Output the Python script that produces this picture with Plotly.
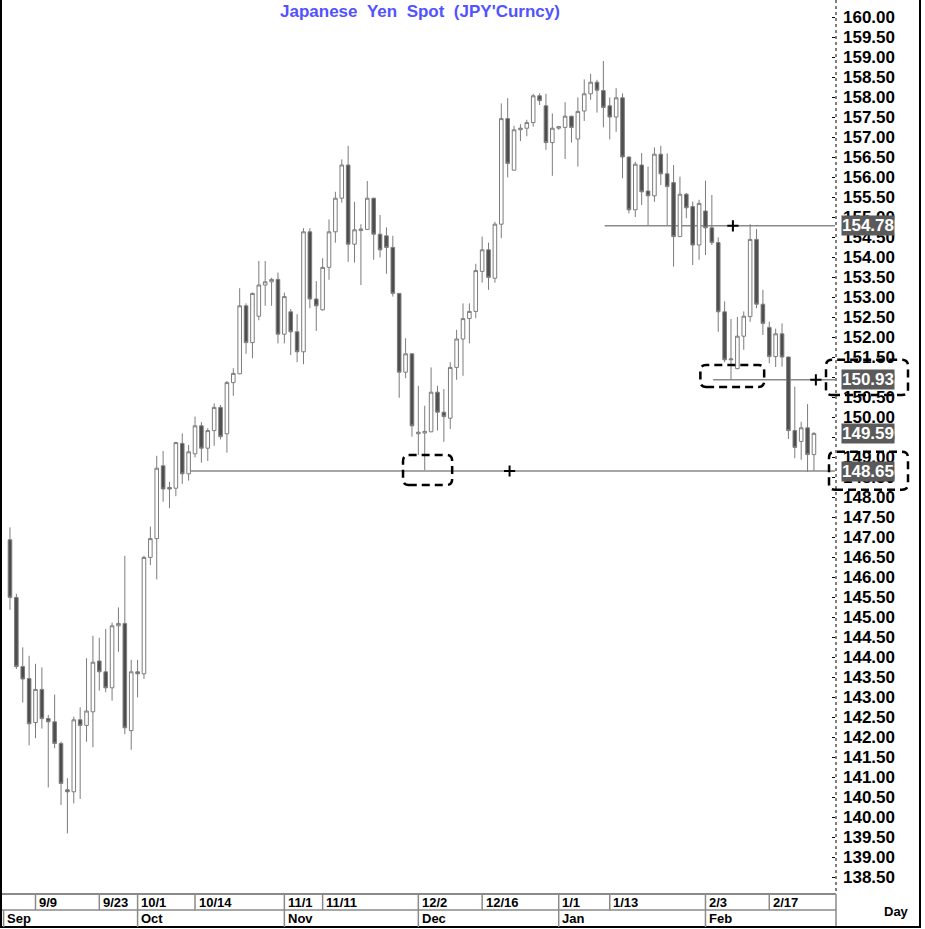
import numpy as np
import pandas as pd
import plotly.graph_objects as go

# ---------------- data ----------------
dates = pd.bdate_range("2024-09-03", "2025-02-26")

opens = [146.93,145.49,143.76,143.46,142.36,143.19,142.46,142.38,141.84,140.68,
         140.63,142.43,142.29,142.63,143.90,143.63,143.23,144.78,144.84,142.16,
         143.63,143.58,146.49,146.96,148.78,148.24,148.22,149.34,148.58,149.08,
         149.78,149.22,149.66,150.24,149.58,150.86,151.08,152.78,151.86,152.52,
         153.30,153.38,153.44,152.07,152.63,152.13,151.63,154.63,152.95,152.68,
         153.74,154.63,155.47,156.30,154.32,154.66,154.69,155.47,154.57,154.53,
         154.24,153.09,151.12,151.58,149.58,149.60,149.63,150.62,150.12,149.97,
         151.24,151.95,152.46,152.64,153.64,154.18,153.47,154.82,157.46,156.17,
         157.18,157.22,157.36,158.03,157.78,156.86,157.22,157.24,157.52,156.95,
         157.65,158.08,158.37,158.16,157.78,157.50,157.98,156.50,155.18,156.30,
         155.65,155.53,156.57,156.08,155.86,154.51,155.57,155.26,154.30,155.15,
         154.73,154.36,152.63,151.43,151.21,152.02,152.51,154.44,152.82,152.24,
         151.51,152.08,151.50,149.66,149.39,149.73,149.06]
highs = [147.24,145.58,144.24,144.03,143.83,143.74,142.55,143.06,141.88,140.97,
         142.51,142.74,143.97,144.53,144.48,144.70,144.86,145.24,146.53,143.93,
         143.93,146.53,147.26,149.03,149.15,148.38,149.38,149.59,149.30,150.01,
         149.87,149.72,150.34,150.30,150.90,151.22,153.22,152.84,153.11,153.90,
         153.90,153.48,153.61,153.11,152.70,152.57,154.72,154.72,153.40,153.97,
         154.94,155.63,156.44,156.78,155.38,154.82,155.90,155.48,155.05,154.74,
         154.53,153.10,151.97,151.60,150.78,150.28,151.24,150.78,150.70,151.37,
         152.18,152.84,152.84,153.83,154.51,154.36,154.88,157.84,157.97,157.28,
         157.32,157.43,158.08,158.09,158.08,157.59,157.27,157.87,157.53,157.99,
         158.44,158.58,158.43,158.90,157.99,158.22,158.09,156.51,156.38,156.60,
         156.26,156.74,156.78,156.59,156.30,156.01,155.60,155.39,155.43,155.91,
         155.55,154.49,152.89,152.45,152.50,152.64,154.82,154.70,153.18,152.38,
         152.21,152.34,151.51,150.76,149.88,150.32,149.62]
lows = [145.18,143.70,142.86,141.79,141.97,142.21,140.74,141.72,140.30,139.59,
        140.34,140.45,141.88,141.74,143.16,143.12,142.91,144.13,142.07,141.68,
        142.99,143.45,146.30,145.94,147.88,147.72,148.02,148.33,148.41,148.99,
        148.86,148.90,149.28,149.44,149.11,150.53,151.07,151.58,151.47,152.42,
        152.78,152.78,151.84,151.84,151.55,151.37,151.32,152.72,152.15,152.66,
        153.43,154.36,155.36,153.88,153.86,153.30,154.68,153.93,153.99,153.58,
        153.01,150.48,150.97,149.51,149.05,148.67,149.62,149.66,149.38,149.70,
        150.93,151.03,151.84,152.47,153.36,153.18,153.36,154.47,155.99,156.16,
        156.90,157.02,157.26,157.80,156.68,156.03,157.18,156.45,156.86,156.26,
        157.40,157.93,157.61,157.24,156.94,157.13,155.97,155.09,155.00,155.30,
        154.80,155.38,155.80,154.80,153.76,154.50,154.97,153.80,153.93,154.05,
        154.30,152.13,151.37,150.93,151.19,151.68,152.38,152.72,152.05,151.34,
        151.25,151.26,149.45,148.97,148.93,148.63,148.65]
closes = [145.49,143.76,143.45,142.33,143.19,142.46,142.38,141.84,140.84,140.63,
          142.43,142.29,142.65,143.87,143.63,143.23,144.78,144.84,142.23,143.63,
          143.58,146.49,146.96,148.72,148.20,148.20,149.36,148.58,149.13,149.78,
          149.22,149.66,150.24,149.51,150.86,151.09,152.78,151.86,153.09,153.30,
          153.38,153.44,152.07,153.01,152.13,151.63,154.63,152.95,152.78,153.74,
          154.63,155.47,156.30,154.32,154.68,154.70,155.47,154.57,154.18,154.24,
          153.09,151.12,151.58,149.78,149.62,149.64,150.62,150.12,150.01,151.24,
          151.95,152.46,152.64,153.66,154.18,153.49,154.82,157.46,156.34,157.18,
          157.22,157.36,158.03,157.91,156.86,157.22,157.26,157.52,157.24,157.64,
          158.08,158.37,158.17,157.74,157.50,157.98,156.50,155.18,156.32,155.63,
          155.53,156.57,156.08,155.76,154.51,155.57,155.23,154.30,155.34,154.73,
          154.36,152.63,151.43,151.45,152.02,152.52,154.44,152.82,152.34,151.51,
          152.08,151.50,149.66,149.24,149.73,149.06,149.59]

day_tick_dates = ["2024-09-09", "2024-09-23", "2024-10-01", "2024-10-14", "2024-11-01",
                  "2024-11-11", "2024-12-02", "2024-12-16", "2025-01-01", "2025-01-13",
                  "2025-02-03", "2025-02-17"]
day_tick_text = ["9/9", "9/23", "10/1", "10/14", "11/1", "11/11", "12/2", "12/16",
                 "1/1", "1/13", "2/3", "2/17"]
month_dates = ["2024-09-02", "2024-10-01", "2024-11-01", "2024-12-02", "2025-01-01", "2025-02-03"]
month_text = ["Sep", "Oct", "Nov", "Dec", "Jan", "Feb"]

ytick_vals = [round(v, 2) for v in np.arange(138.5, 160.001, 0.5)]
ytick_text = [f"{v:.2f}" for v in ytick_vals]

# highlighted levels (value labels on the price axis)
level_values = [154.78, 150.93, 149.59, 148.65]
# support / resistance lines: (start date, level, "+" marker date)
support_lines = [("2024-10-11", 148.65, "2024-12-20"),
                 ("2025-01-10", 154.78, "2025-02-07"),
                 ("2025-02-04", 150.93, "2025-02-26")]

# ---------------- geometry helpers ----------------
W, H = 925, 929
ML, MR, MT, MB = 2, 90, 0, 35
PW, PH = W - ML - MR, H - MT - MB
XR = [-1.25, 129.3]
YR = [138.075, 160.425]


def pxx(xp):
    return (xp - ML) / PW


def pxy(yp):
    return (PH + MT - yp) / PH


def pos(d):
    return int(np.busday_count(np.datetime64(str(dates[0].date())), np.datetime64(d)))


x = np.arange(len(dates))

fig = go.Figure()
fig.add_trace(go.Candlestick(
    x=x, open=opens, high=highs, low=lows, close=closes,
    increasing=dict(line=dict(color="#7c7c7c", width=1), fillcolor="#ffffff"),
    decreasing=dict(line=dict(color="#7c7c7c", width=1), fillcolor="#4d4d4d"),
    whiskerwidth=0, showlegend=False, hoverinfo="skip",
))

shapes = []
GRAY = "#8a8a8a"
plus_x, plus_y = [], []
for start, lvl, mark in support_lines:
    shapes.append(dict(type="line", xref="x", yref="y", x0=pos(start) + 0.2, x1=XR[1],
                       y0=lvl, y1=lvl, line=dict(color=GRAY, width=1.5), layer="below"))
    plus_x.append(pos(mark) + 0.3)
    plus_y.append(lvl)
fig.add_trace(go.Scatter(x=plus_x, y=plus_y, mode="markers", showlegend=False, hoverinfo="skip",
                         marker=dict(symbol="cross-thin", size=8, line=dict(width=2, color="black"))))


def rrect(x0, x1, y0, y1, rx, ry):
    return (f"M {x0 + rx},{y0} L {x1 - rx},{y0} Q {x1},{y0} {x1},{y0 + ry} "
            f"L {x1},{y1 - ry} Q {x1},{y1} {x1 - rx},{y1} L {x0 + rx},{y1} "
            f"Q {x0},{y1} {x0},{y1 - ry} L {x0},{y0 + ry} Q {x0},{y0} {x0 + rx},{y0} Z")


DASH = dict(color="black", width=2.5, dash="8px,5px")
shapes.append(dict(type="path", xref="x", yref="y",
                   path=rrect(61.6, 69.3, 148.30, 149.05, 0.9, 0.15), line=DASH))
shapes.append(dict(type="path", xref="x", yref="y",
                   path=rrect(108.2, 118.2, 150.75, 151.30, 0.9, 0.15), line=DASH))
shapes.append(dict(type="path", xref="paper", yref="y",
                   path=rrect(pxx(826), pxx(908), 150.55, 151.43, 6 / PW, 0.15), line=DASH))
shapes.append(dict(type="path", xref="paper", yref="y",
                   path=rrect(pxx(829), pxx(908), 148.18, 149.13, 6 / PW, 0.15), line=DASH))

# dotted axis line
shapes.append(dict(type="line", xref="paper", yref="paper", x0=pxx(836), x1=pxx(836),
                   y0=pxy(0), y1=pxy(894), line=dict(color="black", width=1, dash="dot")))
# bottom date panel lines
shapes.append(dict(type="line", xref="paper", yref="paper", x0=pxx(0), x1=pxx(836),
                   y0=pxy(894), y1=pxy(894), line=dict(color=GRAY, width=2)))
shapes.append(dict(type="line", xref="paper", yref="paper", x0=pxx(0), x1=pxx(836),
                   y0=pxy(910), y1=pxy(910), line=dict(color=GRAY, width=1.5)))
shapes.append(dict(type="line", xref="paper", yref="paper", x0=pxx(836), x1=pxx(836),
                   y0=pxy(894), y1=pxy(927), line=dict(color=GRAY, width=1.5)))
# frame
shapes.append(dict(type="line", xref="paper", yref="paper", x0=pxx(1), x1=pxx(1),
                   y0=pxy(0), y1=pxy(927.5), line=dict(color="black", width=2)))
shapes.append(dict(type="line", xref="paper", yref="paper", x0=pxx(920), x1=pxx(920),
                   y0=pxy(0), y1=pxy(927.5), line=dict(color="black", width=2)))
shapes.append(dict(type="line", xref="paper", yref="paper", x0=pxx(0), x1=pxx(921),
                   y0=pxy(927), y1=pxy(927), line=dict(color="black", width=2)))

annotations = []
LABFONT = dict(family="Liberation Sans", size=13, color="black", weight="bold")
for d, t in zip(day_tick_dates, day_tick_text):
    p = pos(d)
    shapes.append(dict(type="line", xref="x", yref="paper", x0=p, x1=p,
                       y0=pxy(894), y1=pxy(910), line=dict(color=GRAY, width=1.5)))
    annotations.append(dict(x=p + 0.25, y=pxy(902.5), xref="x", yref="paper", text=t,
                            showarrow=False, xanchor="left", yanchor="middle", font=LABFONT))
for d, t in zip(month_dates, month_text):
    p = pos(d)
    shapes.append(dict(type="line", xref="x", yref="paper", x0=p, x1=p,
                       y0=pxy(910), y1=pxy(927), line=dict(color=GRAY, width=1.5)))
    annotations.append(dict(x=max(p, XR[0]) + 0.25, y=pxy(918.5), xref="x", yref="paper", text=t,
                            showarrow=False, xanchor="left", yanchor="middle", font=LABFONT))

annotations.append(dict(x=pxx(897), y=pxy(911), xref="paper", yref="paper", text="Day",
                        showarrow=False, xanchor="center", yanchor="middle", font=LABFONT))

for v in level_values:
    annotations.append(dict(x=pxx(841), y=v, xref="paper", yref="y", text=f"{v:.2f}",
                            showarrow=False, xanchor="left", yanchor="middle",
                            bgcolor="#5a5a5a", borderpad=0,
                            font=dict(family="Liberation Sans", size=17, color="white", weight="bold")))

annotations.append(dict(x=pxx(420), y=pxy(12), xref="paper", yref="paper",
                        text="Japanese\u00a0\u00a0Yen\u00a0\u00a0Spot\u00a0\u00a0(JPY'Curncy)",
                        showarrow=False, xanchor="center", yanchor="middle",
                        font=dict(family="Liberation Sans", size=17, color="#5252ff", weight="bold")))

fig.update_layout(
    width=W, height=H,
    margin=dict(l=ML, r=MR, t=MT, b=MB),
    paper_bgcolor="white", plot_bgcolor="white",
    shapes=shapes, annotations=annotations,
    boxgap=0.2,
    xaxis=dict(range=XR, showgrid=False, zeroline=False, showticklabels=False,
               ticks="", showline=False, rangeslider=dict(visible=False), fixedrange=True),
    yaxis=dict(range=YR, side="right", showgrid=False, zeroline=False, showline=False,
               tickvals=ytick_vals, ticktext=ytick_text, ticks="inside", ticklen=3,
               tickcolor="black", ticklabelstandoff=7,
               tickfont=dict(family="Liberation Sans", size=17, color="black", weight="bold")),
)

fig.write_html("out.html", config={"displayModeBar": False},
               post_script="document.body.style.margin='0px';document.body.style.overflow='hidden';")
